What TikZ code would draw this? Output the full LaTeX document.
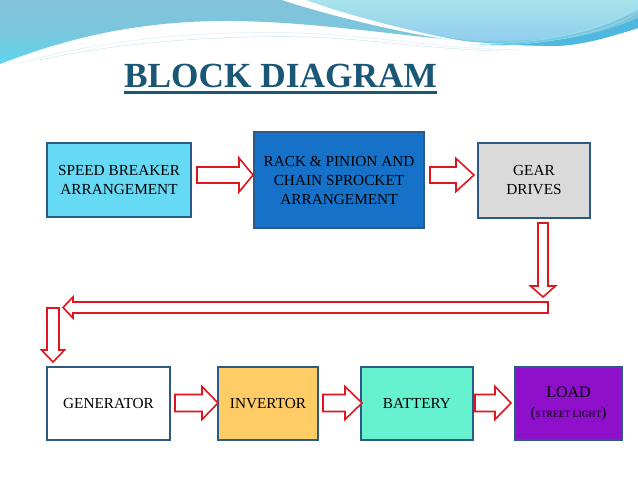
\documentclass[tikz,border=0pt]{standalone}
\usepackage{fontspec}
\setmainfont{Liberation Serif}
\usetikzlibrary{calc}
\definecolor{bord}{HTML}{2B5A86}
\definecolor{arrred}{HTML}{E0161E}
\definecolor{titleblue}{HTML}{1A5777}
\definecolor{cspeed}{HTML}{66D9F4}
\definecolor{crack}{HTML}{1672C8}
\definecolor{cgear}{HTML}{DADADA}
\definecolor{cinv}{HTML}{FFCC66}
\definecolor{cbat}{HTML}{66F2CF}
\definecolor{cload}{HTML}{8E10CB}
\definecolor{wavea}{HTML}{5CD6EC}
\definecolor{waveb}{HTML}{84C2D9}
\definecolor{wavec}{HTML}{A8E2EA}
\definecolor{waved}{HTML}{8FCDEE}
\definecolor{waveband}{HTML}{4FB8DE}
\tikzset{
  box/.style={draw=bord, line width=1.3pt, align=center, text=black,
    font=\fontsize{15.3}{19}\selectfont, inner sep=0pt},
  blockarrow/.style={draw=arrred, fill=white, line width=1.6pt, line join=miter}
}
% horizontal arrow: x1, x2 (tip), headstart, y, shaft half, head half
\newcommand\hblockarrow[6]{%
  \draw[blockarrow] (#1,#4-#5) -- (#3,#4-#5) -- (#3,#4-#6) -- (#2,#4) --
    (#3,#4+#6) -- (#3,#4+#5) -- (#1,#4+#5) -- cycle;}
% vertical arrow: y1, y2 (tip), headstart, x, shaft half, head half
\newcommand\vblockarrow[6]{%
  \draw[blockarrow] (#4-#5,#1) -- (#4-#5,#3) -- (#4-#6,#3) -- (#4,#2) --
    (#4+#6,#3) -- (#4+#5,#3) -- (#4+#5,#1) -- cycle;}
\begin{document}
\begin{tikzpicture}[x=1pt,y=-1pt]
\useasboundingbox (0,0) rectangle (638,479);
\fill[white] (0,0) rectangle (638,479);
% background waves
\shade[top color=waveb, bottom color=wavea, middle color=waveb!75!wavea]
  (0,0) -- (638,0) -- (638,28) .. controls (600,40) and (580,45) .. (555,46)
  .. controls (450,46) and (330,20) .. (220,21)
  .. controls (120,22) and (50,45) .. (0,64) -- cycle;
\fill[waveband] (470,44) .. controls (540,46) and (600,36) .. (638,18) -- (638,28)
  .. controls (600,40) and (580,45) .. (555,46) -- cycle;
\shade[top color=wavec, bottom color=waved]
  (300,0) -- (638,0) -- (638,10) .. controls (600,30) and (560,43) .. (480,41)
  .. controls (420,37) and (340,14) .. (300,0) -- cycle;
\fill[white] (282,0) .. controls (330,16) and (420,38) .. (482,44)
  .. controls (420,35) and (340,13) .. (306,0) -- cycle;
\draw[white!70!waveb, line width=0.5pt] (20,63) .. controls (100,40) and (200,30) .. (300,33)
  .. controls (380,36) and (430,48) .. (520,50);
\draw[white!50!waveb, line width=0.4pt] (40,60) .. controls (120,42) and (220,35) .. (310,37)
  .. controls (380,40) and (430,49) .. (500,51);
\draw[white!40!wavea, line width=0.4pt] (480,44) .. controls (560,43) and (610,26) .. (638,6);
\draw[white!40!wavea, line width=0.4pt] (470,46) .. controls (560,46) and (610,30) .. (638,12);
% title
\node[anchor=base, text=titleblue, font=\fontsize{35.3}{40}\selectfont\bfseries, inner sep=0pt]
  (title) at (280.5,87) {BLOCK DIAGRAM};
\draw[titleblue, line width=3pt] (124,92) -- (437,92);
% boxes
\node[box, fill=cspeed, minimum width=144pt, minimum height=74pt] (speed) at (119,180)
  {SPEED BREAKER\\ARRANGEMENT};
\node[box, fill=crack, minimum width=170pt, minimum height=96pt] (rack) at (339,180)
  {RACK \& PINION AND\\CHAIN SPROCKET\\ARRANGEMENT};
\node[box, fill=cgear, minimum width=112pt, minimum height=75pt] (gear) at (534,180.5)
  {GEAR\\DRIVES};
\node[box, fill=white, minimum width=123pt, minimum height=73pt] (gen) at (108.5,403.5)
  {GENERATOR};
\node[box, fill=cinv, minimum width=100pt, minimum height=73pt] (inv) at (268,403.5)
  {INVERTOR};
\node[box, fill=cbat, minimum width=112pt, minimum height=73pt] (bat) at (417,403.5)
  {BATTERY};
\node[box, fill=cload, minimum width=107pt, minimum height=73pt] (load) at (568.5,403.5)
  {\fontsize{16}{17}\selectfont LOAD\\[1pt]\fontsize{15}{17}\selectfont(\fontsize{9.5}{17}\selectfont STREET LIGHT\fontsize{15}{17}\selectfont)};
% block arrows
\hblockarrow{197}{253}{239}{175}{8}{17}
\hblockarrow{430}{474}{456}{175}{8}{16.5}
\vblockarrow{223}{297}{286}{543}{5}{12.5}
\hblockarrow{548}{63}{73}{307.5}{5.5}{10.5}
\vblockarrow{308}{362}{350}{53}{6}{11.5}
\hblockarrow{175}{218}{202}{403}{8.5}{16.5}
\hblockarrow{323}{362}{345}{403}{8.5}{16.5}
\hblockarrow{475}{511}{495}{403}{8.5}{16.5}
\end{tikzpicture}
\end{document}
